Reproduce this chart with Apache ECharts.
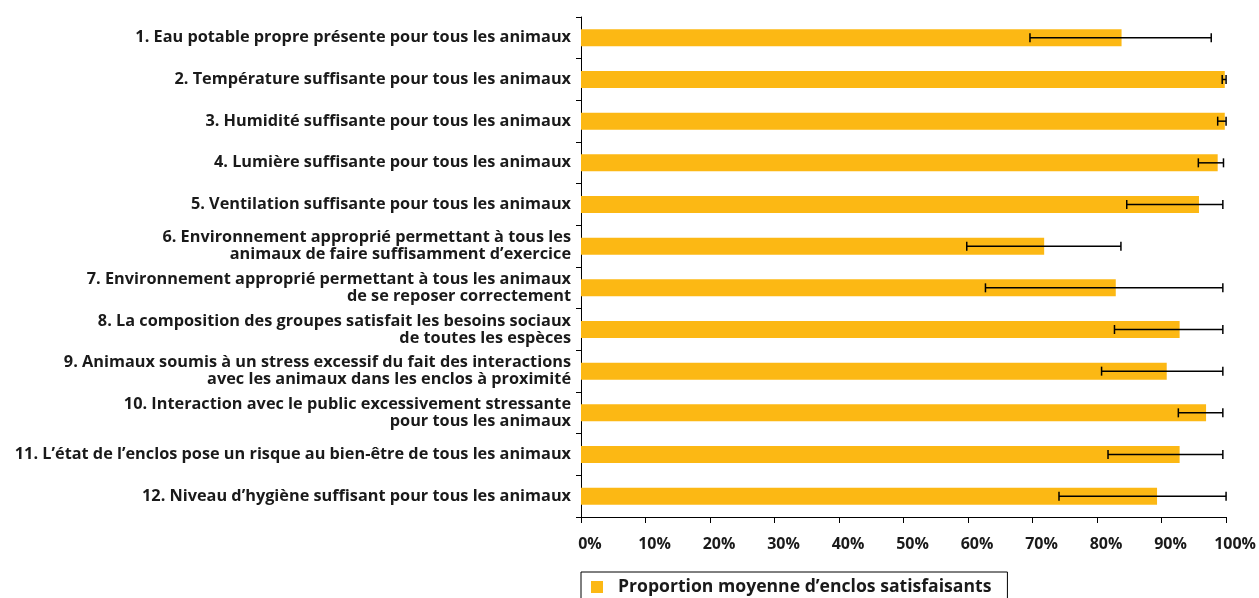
<!DOCTYPE html>
<html>
<head>
    <meta charset="utf-8">
    <title>Proportion moyenne d'enclos satisfaisants</title>
    <script src="https://cdn.jsdelivr.net/npm/echarts@6/dist/echarts.min.js"></script>
    <style>
        html, body { margin: 0; padding: 0; background: #fff; }
        #main { width: 1259px; height: 598px; }
    </style>
</head>
<body>
<div id="main"></div>
<script type="text/javascript">
    // categories (top to bottom)
    var categories = [
        "1. Eau potable propre présente pour tous les animaux",
        "2. Température suffisante pour tous les animaux",
        "3. Humidité suffisante pour tous les animaux",
        "4. Lumière suffisante pour tous les animaux",
        "5. Ventilation suffisante pour tous les animaux",
        "6. Environnement approprié permettant à tous les\nanimaux de faire suffisamment d’exercice",
        "7. Environnement approprié permettant à tous les animaux\nde se reposer correctement",
        "8. La composition des groupes satisfait les besoins sociaux\nde toutes les espèces",
        "9. Animaux soumis à un stress excessif du fait des interactions\navec les animaux dans les enclos à proximité",
        "10. Interaction avec le public excessivement stressante\npour tous les animaux",
        "11. L’état de l’enclos pose un risque au bien-être de tous les animaux",
        "12. Niveau d’hygiène suffisant pour tous les animaux"
    ];
    // mean proportion (%)
    var values = [83.8, 99.8, 99.8, 98.7, 95.8, 71.8, 82.9, 92.8, 90.8, 96.9, 92.8, 89.3];
    // error bar bounds (%)
    var errLow  = [69.6, 99.4, 98.7, 95.7, 84.6, 59.8, 62.7, 82.7, 80.7, 92.6, 81.7, 74.1];
    var errHigh = [97.7, 100, 100, 99.6, 99.5, 83.7, 99.5, 99.5, 99.5, 99.5, 99.5, 100];

    var errData = categories.map(function (c, i) {
        return [errLow[i], errHigh[i], i];
    });

    var font = "'Open Sans', 'DejaVu Sans', sans-serif";
    var myChart = echarts.init(document.getElementById("main"));

    var option = {
        animation: false,
        backgroundColor: '#fff',
        grid: {
            left: 581,
            right: 32,
            top: 17,
            bottom: 81
        },
        legend: {
            data: ['Proportion moyenne d’enclos satisfaisants'],
            left: 581,
            top: 572,
            icon: 'rect',
            itemWidth: 12,
            itemHeight: 12,
            itemGap: 10,
            borderColor: '#000',
            borderWidth: 1,
            borderRadius: 0,
            padding: [6, 16, 8, 10],
            textStyle: {
                fontFamily: font,
                fontWeight: 'bold',
                fontSize: 17.6,
                color: '#1a1a1a',
                padding: [0, 0, 0, 10]
            }
        },
        xAxis: {
            type: 'value',
            min: 0,
            max: 100,
            interval: 10,
            splitLine: { show: false },
            axisLine: { show: true, lineStyle: { color: '#000', width: 1 } },
            axisTick: { show: true, length: 6, lineStyle: { color: '#000' } },
            axisLabel: {
                margin: 19,
                formatter: '{value}%',
                fontFamily: font,
                fontWeight: 'bold',
                fontSize: 16,
                color: '#1a1a1a',
                padding: [0, 0, 0, 18]
            }
        },
        yAxis: {
            type: 'category',
            inverse: true,
            data: categories,
            axisLine: { show: true, lineStyle: { color: '#000', width: 1 } },
            axisTick: { show: true, length: 5, lineStyle: { color: '#000' } },
            axisLabel: {
                margin: 10,
                fontFamily: font,
                fontWeight: 'bold',
                fontSize: 16.3,
                lineHeight: 17,
                color: '#1a1a1a',
                align: 'right'
            }
        },
        series: [
            {
                name: 'Proportion moyenne d’enclos satisfaisants',
                type: 'bar',
                data: values,
                barWidth: 17,
                itemStyle: { color: '#FCB814' }
            },
            {
                name: 'erreur',
                type: 'custom',
                data: errData,
                encode: { x: [0, 1], y: 2 },
                z: 5,
                renderItem: function (params, api) {
                    var lo = api.coord([api.value(0), api.value(2)]);
                    var hi = api.coord([api.value(1), api.value(2)]);
                    var h = 4.5;
                    var st = { stroke: '#000', lineWidth: 1.5 };
                    return {
                        type: 'group',
                        children: [
                            { type: 'line', shape: { x1: lo[0], y1: lo[1], x2: hi[0], y2: hi[1] }, style: st },
                            { type: 'line', shape: { x1: lo[0], y1: lo[1] - h, x2: lo[0], y2: lo[1] + h }, style: st },
                            { type: 'line', shape: { x1: hi[0], y1: hi[1] - h, x2: hi[0], y2: hi[1] + h }, style: st }
                        ]
                    };
                }
            }
        ]
    };
    myChart.setOption(option);
</script>
</body>
</html>
